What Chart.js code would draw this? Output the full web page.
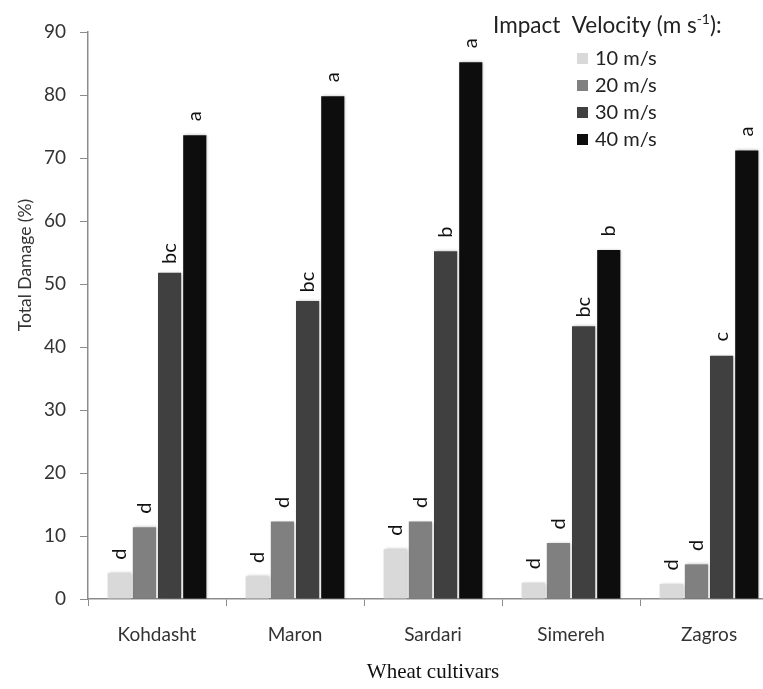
<!DOCTYPE html>
<html>
<head>
<meta charset="utf-8">
<script src="https://cdn.jsdelivr.net/npm/chart.js@4"></script>
<style>
  html, body { margin: 0; padding: 0; overflow: hidden; background: #fff; }
  #wrap { width: 800px; height: 689px; }
</style>
</head>
<body>
<div id="wrap"><canvas id="damageChart" width="800" height="689"></canvas></div>
<script>
// Chart data
const cultivars = ["Kohdasht", "Maron", "Sardari", "Simereh", "Zagros"];
const velocityLabels = ["10 m/s", "20 m/s", "30 m/s", "40 m/s"];
const velocityColors = ["#d9d9d9", "#808080", "#404040", "#0d0d0d"];

const damage10 = [4.1, 3.6, 7.9, 2.6, 2.4];
const damage20 = [11.4, 12.3, 12.3, 8.9, 5.5];
const damage30 = [51.8, 47.3, 55.2, 43.3, 38.6];
const damage40 = [73.6, 79.8, 85.2, 55.4, 71.2];

// Significance letters above each bar
const letters10 = ["d", "d", "d", "d", "d"];
const letters20 = ["d", "d", "d", "d", "d"];
const letters30 = ["bc", "bc", "b", "bc", "c"];
const letters40 = ["a", "a", "a", "b", "a"];

const yTicks = [0, 10, 20, 30, 40, 50, 60, 70, 80, 90];

const allValues = [damage10, damage20, damage30, damage40];
const allLetters = [letters10, letters20, letters30, letters40];

const FONT = "Lato, 'Open Sans', sans-serif";

// Shadow around bars
const barShadow = {
    id: "barShadow",
    beforeDatasetsDraw(chart) {
        const ctx = chart.ctx;
        ctx.save();
        ctx.shadowColor = "rgba(0,0,0,0.28)";
        ctx.shadowBlur = 3;
        ctx.shadowOffsetX = 1;
        ctx.shadowOffsetY = 0;
    },
    afterDatasetsDraw(chart) {
        chart.ctx.restore();
    }
};

// Letters, legend and y title
const extras = {
    id: "extras",
    afterDraw(chart) {
        const ctx = chart.ctx;
        ctx.save();

        // rotated letters on top of bars
        ctx.fillStyle = "#111";
        ctx.font = "20px " + FONT;
        ctx.textAlign = "center";
        ctx.textBaseline = "middle";
        chart.data.datasets.forEach((ds, di) => {
            const meta = chart.getDatasetMeta(di);
            meta.data.forEach((bar, i) => {
                ctx.save();
                ctx.translate(bar.x, bar.y - 19);
                ctx.rotate(-Math.PI / 2);
                ctx.fillText(allLetters[di][i], 0, 0);
                ctx.restore();
            });
        });

        // y axis title
        ctx.save();
        ctx.fillStyle = "#333";
        ctx.font = "17.5px " + FONT;
        ctx.textAlign = "center";
        ctx.textBaseline = "middle";
        ctx.translate(25, 265);
        ctx.rotate(-Math.PI / 2);
        ctx.fillText("Total Damage (%)", 0, 0);
        ctx.restore();

        // legend title with superscript
        ctx.fillStyle = "#222";
        ctx.textBaseline = "middle";
        ctx.textAlign = "left";
        let x = 493;
        ctx.font = "22.5px " + FONT;
        const part1 = "Impact  Velocity (m s";
        ctx.fillText(part1, x, 26);
        x += ctx.measureText(part1).width;
        ctx.font = "14px " + FONT;
        ctx.fillText("-1", x, 19);
        x += ctx.measureText("-1").width;
        ctx.font = "22.5px " + FONT;
        ctx.fillText("):", x, 26);

        // legend items
        ctx.font = "20px " + FONT;
        chart.data.datasets.forEach((ds, di) => {
            const cy = 58 + di * 27;
            ctx.fillStyle = ds.backgroundColor;
            ctx.fillRect(577, cy - 5, 11, 11);
            ctx.fillStyle = "#222";
            ctx.fillText(ds.label, 595, cy + 1);
        });
        ctx.restore();
    }
};

const ctx = document.getElementById("damageChart").getContext("2d");

new Chart(ctx, {
    type: "bar",
    data: {
        labels: cultivars,
        datasets: velocityLabels.map((label, i) => ({
            label,
            data: allValues[i],
            backgroundColor: velocityColors[i],
            borderColor: "#ffffff",
            borderWidth: 0,
            categoryPercentage: 0.73,
            barPercentage: 0.92,
        })),
    },
    options: {
        responsive: false,
        animation: false,
        layout: { padding: { top: 32, left: 0, right: 22, bottom: 0 } },
        plugins: {
            legend: { display: false },
            tooltip: { enabled: false },
        },
        scales: {
            x: {
                grid: {
                    display: true,
                    drawOnChartArea: false,
                    offset: true,
                    color: "#8c8c8c",
                    tickLength: 7,
                },
                border: { color: "#8c8c8c", width: 1.5 },
                ticks: {
                    color: "#333",
                    font: { family: FONT, size: 19 },
                    padding: 17,
                },
                title: {
                    display: true,
                    text: "Wheat cultivars",
                    color: "#111",
                    font: { family: "'Liberation Serif', 'Times New Roman', serif", size: 21 },
                    padding: { top: 0, bottom: 4 },
                },
                afterFit(scale) { scale.height = 90; },
            },
            y: {
                min: 0,
                max: 90,
                afterBuildTicks(scale) {
                    scale.ticks = yTicks.map(v => ({ value: v }));
                },
                grid: {
                    drawOnChartArea: false,
                    color: "#8c8c8c",
                    tickLength: 8,
                },
                border: { color: "#8c8c8c", width: 1.5 },
                ticks: {
                    color: "#333",
                    font: { family: FONT, size: 19 },
                    padding: 14,
                },
                afterFit(scale) { scale.width = 88; },
            },
        },
    },
    plugins: [barShadow, extras],
});
</script>
</body>
</html>
